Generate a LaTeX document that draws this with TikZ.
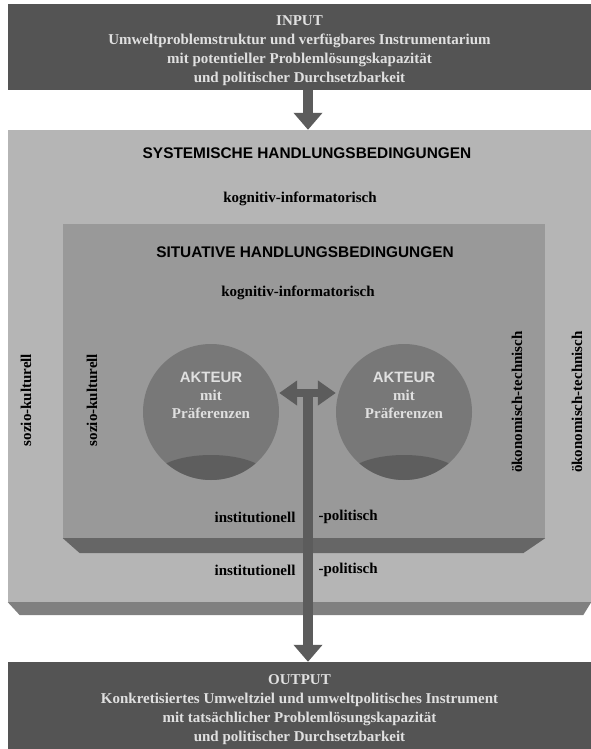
\documentclass[tikz,border=0pt]{standalone}
\usepackage{fontspec}
\setmainfont{Liberation Serif}
\setsansfont{Liberation Sans}
\usetikzlibrary{arrows.meta, calc}

\definecolor{boxdark}{gray}{0.33}
\definecolor{boxtext}{gray}{0.88}
\definecolor{sysgray}{gray}{0.71}
\definecolor{sysbevel}{gray}{0.50}
\definecolor{sitgray}{gray}{0.60}
\definecolor{sitbevel}{gray}{0.40}
\definecolor{actorgray}{gray}{0.47}
\definecolor{actorbase}{gray}{0.37}
\definecolor{arrowgray}{gray}{0.36}

\begin{document}
\begin{tikzpicture}[x=1pt, y=-1pt,
    iobox/.style={fill=boxdark, minimum width=583pt, inner sep=0pt},
    iotext/.style={text=boxtext, align=center, font=\fontsize{15}{19}\selectfont\bfseries},
    headline/.style={font=\fontsize{15.4}{18}\selectfont\sffamily\bfseries},
    cond/.style={font=\fontsize{15}{18}\selectfont\bfseries},
    actor/.style={circle, fill=actorgray, minimum size=136pt, inner sep=0pt},
    actortext/.style={text=boxtext, align=center, font=\fontsize{15}{18}\selectfont\bfseries},
    flow/.style={draw=arrowgray, line width=10pt, -{Triangle[length=17pt, width=28pt]}},
    exchange/.style={draw=arrowgray, line width=8pt, {Triangle[length=18pt, width=24pt]}-{Triangle[length=18pt, width=24pt]}}]
    \fill[white] (0,0) rectangle (591,749);
    \useasboundingbox (0,0) rectangle (591,749);

    \node[iobox, minimum height=86pt] (input) at (299.5,47) {};
    \node[iotext] (inputtxt) at ($(input.center)+(0,4)$) {INPUT\\Umweltproblemstruktur und verfügbares Instrumentarium\\mit potentieller Problemlösungskapazität\\und politischer Durchsetzbarkeit};

    \node[fill=sysgray, minimum width=583pt, minimum height=472pt, inner sep=0pt] (sys) at (299.5,366) {};
    \fill[sysbevel] (sys.south west) -- (sys.south east) -- ++(-8,13) -- ($(sys.south west)+(12,13)$) -- cycle;

    \node[fill=sitgray, minimum width=482pt, minimum height=314pt, inner sep=0pt] (sit) at (304,381) {};
    \fill[sitbevel] (sit.south west) -- (sit.south east) -- ++(-22,15) -- ($(sit.south west)+(17,15)$) -- cycle;

    \node[iobox, minimum height=87pt] (output) at (299.5,705.5) {};
    \node[iotext] (outputtxt) at ($(output.center)+(0,4)$) {OUTPUT\\Konkretisiertes Umweltziel und umweltpolitisches Instrument\\mit tatsächlicher Problemlösungskapazität\\und politischer Durchsetzbarkeit};

    \node[headline] (systitle) at (307,153) {SYSTEMISCHE HANDLUNGSBEDINGUNGEN};
    \node[cond] (syskog) at (300,199) {kognitiv-informatorisch};
    \node[headline] (sittitle) at (305,252) {SITUATIVE HANDLUNGSBEDINGUNGEN};
    \node[cond] (sitkog) at (298,293) {kognitiv-informatorisch};

    \node[cond, rotate=90] (sysleft) at (26,400) {sozio-kulturell};
    \node[cond, rotate=90] (sitleft) at (92,400) {sozio-kulturell};
    \node[cond, rotate=90] (sitright) at (517,402) {ökonomisch-technisch};
    \node[cond, rotate=90] (sysright) at (577,402) {ökonomisch-technisch};

    \node[cond, anchor=east] (sitinst) at (299,517) {institutionell};
    \node[cond, anchor=west] (sitpol) at (315,517) {-politisch};
    \node[cond, anchor=east] (sysinst) at (299,570) {institutionell};
    \node[cond, anchor=west] (syspol) at (315,570) {-politisch};

    \node[actor] (actorL) at (211,412) {};
    \node[actor] (actorR) at (404,412) {};
    \begin{scope}
        \clip (actorL.center) circle (68);
        \fill[actorbase] ($(actorL.center)+(0,66)$) ellipse (58 and 23);
    \end{scope}
    \begin{scope}
        \clip (actorR.center) circle (68);
        \fill[actorbase] ($(actorR.center)+(0,66)$) ellipse (58 and 23);
    \end{scope}
    \node[actortext] (actorLtxt) at ($(actorL.center)+(0,-17)$) {\sffamily AKTEUR\\mit\\Präferenzen};
    \node[actortext] (actorRtxt) at ($(actorR.center)+(0,-17)$) {\sffamily AKTEUR\\mit\\Präferenzen};

    \coordinate (hub) at (308,393);
    \draw[flow] (input.south -| hub) -- (sys.north -| hub);
    \draw[exchange] (actorL.east |- hub) -- (actorR.west |- hub);
    \draw[flow] (hub) -- (output.north -| hub);
\end{tikzpicture}
\end{document}
